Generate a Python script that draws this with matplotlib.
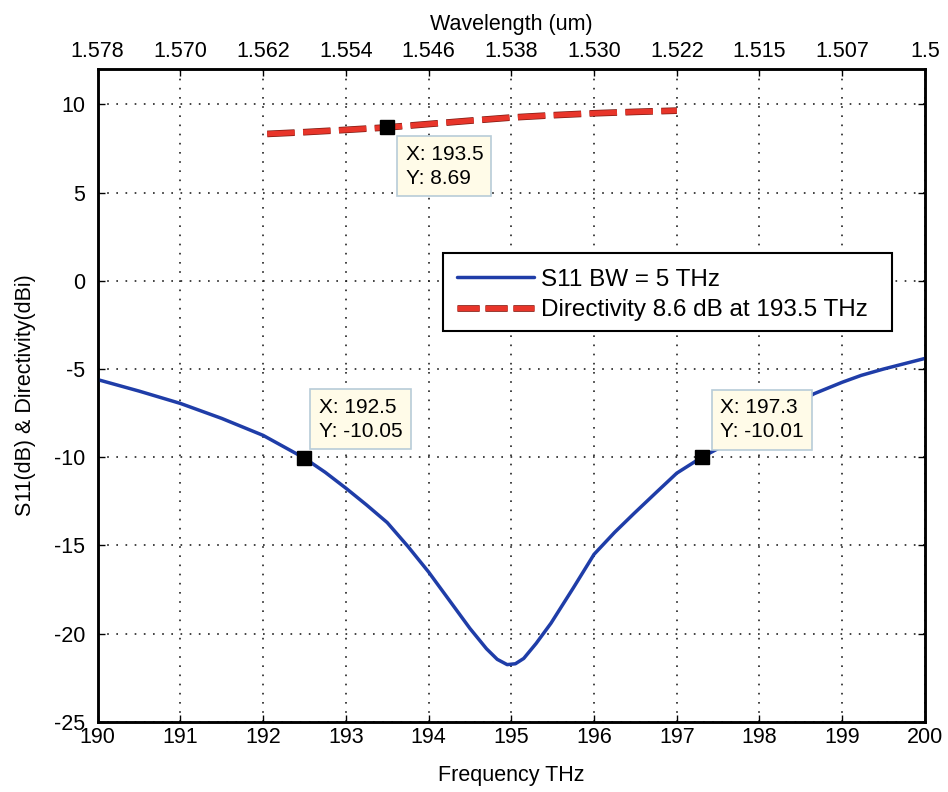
import matplotlib
matplotlib.use("Agg")
import matplotlib.pyplot as plt
from matplotlib.patches import Rectangle
from matplotlib.lines import Line2D
import matplotlib.patheffects as pe

plt.rcParams['font.family'] = ['Liberation Sans', 'DejaVu Sans']
plt.rcParams['axes.unicode_minus'] = False

# ---- data ----
freq_s11 = [190.0, 190.5, 191.0, 191.5, 192.0, 192.5, 192.75, 193.0, 193.25, 193.5,
            193.75, 194.0, 194.25, 194.5, 194.7, 194.83, 194.95, 195.05, 195.15,
            195.3, 195.48, 195.75, 196.0, 196.25, 196.48, 196.75, 197.0, 197.3,
            197.7, 198.0, 198.3, 198.66, 199.0, 199.23, 199.5, 200.0]
s11 = [-5.6, -6.25, -6.95, -7.8, -8.76, -10.05, -10.85, -11.75, -12.7, -13.7,
       -15.05, -16.5, -18.1, -19.7, -20.85, -21.45, -21.75, -21.7, -21.4,
       -20.55, -19.4, -17.4, -15.5, -14.25, -13.2, -12.0, -10.9, -10.01,
       -9.0, -8.25, -7.35, -6.4, -5.75, -5.36, -5.0, -4.4]

freq_dir = [192.05, 192.5, 193.0, 193.5, 194.0, 194.5, 195.0, 195.5, 196.0, 196.5, 197.0]
directivity = [8.32, 8.42, 8.55, 8.69, 8.88, 9.07, 9.25, 9.38, 9.49, 9.57, 9.64]

freq_ticks = [190, 191, 192, 193, 194, 195, 196, 197, 198, 199, 200]
wl_labels = ['1.578', '1.570', '1.562', '1.554', '1.546', '1.538', '1.530',
             '1.522', '1.515', '1.507', '1.5']
y_ticks = [-25, -20, -15, -10, -5, 0, 5, 10]

tips_x = [193.5, 192.5, 197.3]
tips_y = [8.69, -10.05, -10.01]
tips_text = ['X: 193.5\nY: 8.69', 'X: 192.5\nY: -10.05', 'X: 197.3\nY: -10.01']

labels = ['S11 BW = 5 THz', 'Directivity 8.6 dB at 193.5 THz']
xlabel = 'Frequency THz'
toplabel = 'Wavelength (um)'
ylabel = 'S11(dB) & Directivity(dBi)'

# ---- figure ----
FS = 15.5
LFS = 17.5
fig = plt.figure(figsize=(9.48, 7.92), dpi=100)
ax = fig.add_axes([0.103, 0.0884, 0.8727, 0.8245])

blue = '#1f3da8'
red = '#e8352a'
red_fx = [pe.Stroke(linewidth=4.8, foreground='#7a1a12'), pe.Normal()]

l1, = ax.plot(freq_s11, s11, color=blue, lw=2.5, zorder=3, solid_capstyle='round')
ax.plot(freq_dir, directivity, color=red, lw=3.8, ls=(0, (5.2, 1.6)), zorder=3,
        path_effects=red_fx)

ax.set_xlim(190, 200)
ax.set_ylim(-25, 12)
ax.set_xticks(freq_ticks)
ax.set_yticks(y_ticks)
ax.tick_params(axis='both', direction='in', length=5, width=1.0, labelsize=FS,
               top=False, right=True)
ax.tick_params(axis='x', pad=3.5)
ax.tick_params(axis='y', pad=9)
ax.grid(True, color='#222222', lw=1.2, ls=(0, (1, 4.5)))
for s in ax.spines.values():
    s.set_linewidth(1.8)
ax.set_xlabel(xlabel, fontsize=FS, labelpad=12)
ax.set_ylabel(ylabel, fontsize=FS)
ax.yaxis.set_label_coords(-0.074, 0.5)

ax2 = ax.twiny()
ax2.set_xlim(190, 200)
ax2.set_xticks(freq_ticks)
ax2.set_xticklabels(wl_labels)
ax2.tick_params(axis='x', direction='in', length=5, width=1.0, labelsize=FS, pad=5)
ax2.set_xlabel(toplabel, fontsize=FS, labelpad=8)
for s in ax2.spines.values():
    s.set_linewidth(1.8)

# data tips
ax.plot(tips_x, tips_y, ls='none', marker='s', ms=10, color='black', zorder=7)
box = dict(boxstyle='square,pad=0.4', facecolor='#fffbe8', edgecolor='#b8ccd8', lw=1.2)
offsets = [((13.2, -12.5), 'top'), ((10.3, 12.5), 'bottom'), ((13.2, 11.7), 'bottom')]
for (x, y, t, (off, va)) in zip(tips_x, tips_y, tips_text, offsets):
    ax.annotate(t, xy=(x, y), xytext=off, textcoords='offset points', ha='left', va=va,
                fontsize=FS - 0.5, bbox=box, zorder=6, linespacing=1.35)

# legend
ax.add_patch(Rectangle((0.417, 0.598), 0.543, 0.1207, transform=ax.transAxes,
                       facecolor='white', edgecolor='black', lw=1.5, zorder=5))
h2 = Line2D([], [], color=red, lw=3.8, ls=(0, (4.2, 1.1)), path_effects=red_fx)
leg = ax.legend([l1, h2], labels, loc='upper left', bbox_to_anchor=(0.434, 0.694),
                frameon=False, fontsize=LFS, borderpad=0, borderaxespad=0,
                handlelength=3.2, handletextpad=0.28, labelspacing=0.35)
leg.set_zorder(6)

fig.savefig('out.png', dpi=100, facecolor='white')
